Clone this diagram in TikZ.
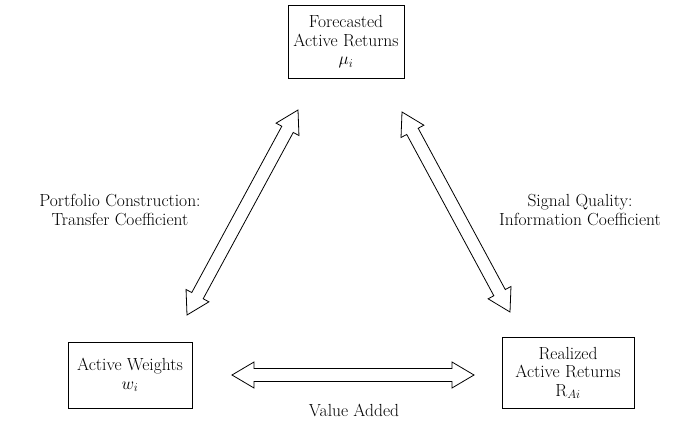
\documentclass[tikz,border=0pt]{standalone}
\usepackage{fontspec}
\usetikzlibrary{calc}

\tikzset{
  box/.style={draw, thick, align=center, inner sep=0pt},
  hollow/.style={draw, thick, fill=white, line join=miter},
  lbl/.style={align=center}
}
% hollow double-headed arrow between two named points
\newcommand{\dblarrow}[2]{%
  \draw[hollow] (#1)
    -- ($(#1)!22pt!(#2)!13pt!90:(#2)$) -- ($(#1)!22pt!(#2)!6.5pt!90:(#2)$)
    -- ($(#2)!22pt!(#1)!6.5pt!-90:(#1)$) -- ($(#2)!22pt!(#1)!13pt!-90:(#1)$)
    -- (#2)
    -- ($(#2)!22pt!(#1)!13pt!90:(#1)$) -- ($(#2)!22pt!(#1)!6.5pt!90:(#1)$)
    -- ($(#1)!22pt!(#2)!6.5pt!-90:(#2)$) -- ($(#1)!22pt!(#2)!13pt!-90:(#2)$)
    -- cycle;}

\begin{document}
\begin{tikzpicture}[x=1pt, y=1pt, font=\fontsize{17.5}{18.5}\selectfont]
    \useasboundingbox (0,0) rectangle (696,432);

    % boxes
    \node[box, minimum width=116, minimum height=73] (fcst) at (346,390)
        {Forecasted\\Active Returns\\$\mathrm{\mu}_i$};
    \node[box, minimum width=124, minimum height=66] (wts) at (130,57)
        {Active Weights\\$w_i$};
    \node[box, minimum width=132, minimum height=71] (real) at (568,59)
        {Realized\\Active Returns\\R$_{Ai}$};

    % arrow end points
    \coordinate (l1) at (187,117);
    \coordinate (l2) at (298,322);
    \coordinate (r1) at (402,320);
    \coordinate (r2) at (510,120);
    \coordinate (h1) at (232,57);
    \coordinate (h2) at (474,57);

    \dblarrow{l1}{l2}
    \dblarrow{r1}{r2}
    \dblarrow{h1}{h2}

    % labels
    \node[lbl] (tc) at (120,222) {Portfolio Construction:\\Transfer Coefficient};
    \node[lbl] (ic) at (580,222) {Signal Quality:\\Information Coefficient};
    \node[lbl] (va) at (354,22) {Value Added};
\end{tikzpicture}
\end{document}
